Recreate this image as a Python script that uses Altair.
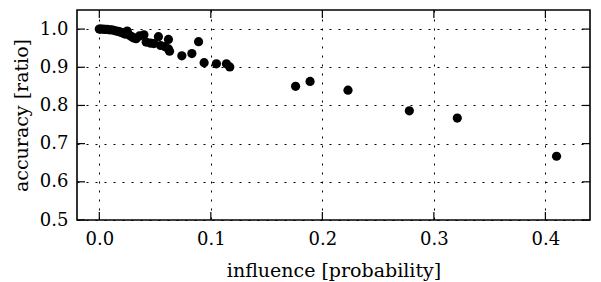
import altair as alt
import pandas as pd

influence = [0.000, 0.001, 0.003, 0.005, 0.007, 0.009, 0.011, 0.013, 0.015, 0.017,
             0.019, 0.021, 0.023, 0.025, 0.027, 0.029, 0.031, 0.033, 0.036, 0.040,
             0.042, 0.046, 0.049, 0.053, 0.055, 0.059, 0.062, 0.062, 0.063, 0.074,
             0.083, 0.089, 0.094, 0.105, 0.114, 0.117, 0.176, 0.189, 0.223, 0.278,
             0.321, 0.410]
accuracy = [1.000, 1.000, 1.000, 0.999, 0.999, 0.998, 0.998, 0.997, 0.995, 0.994,
            0.992, 0.990, 0.987, 0.995, 0.984, 0.980, 0.977, 0.975, 0.982, 0.985,
            0.966, 0.963, 0.962, 0.980, 0.957, 0.954, 0.973, 0.948, 0.942, 0.930,
            0.936, 0.967, 0.912, 0.909, 0.909, 0.901, 0.850, 0.863, 0.840, 0.786,
            0.767, 0.667]
x_ticks = [0.0, 0.1, 0.2, 0.3, 0.4]
y_ticks = [0.5, 0.6, 0.7, 0.8, 0.9, 1.0]

W, H = 513, 210
FONT = "DejaVu Serif"
TL = 8

df = pd.DataFrame({"influence": influence, "accuracy": accuracy})
xt = pd.DataFrame({"influence": x_ticks})
yt = pd.DataFrame({"accuracy": y_ticks})

xs = alt.Scale(domain=[-0.02, 0.44], nice=False, zero=False)
ys = alt.Scale(domain=[0.5, 1.05], nice=False, zero=False)

xaxis = alt.Axis(title="influence [probability]", values=x_ticks, format=".1f",
                 ticks=False, domain=False, labelPadding=10, titlePadding=13,
                 grid=True, gridColor="black", gridDash=[2, 7], gridWidth=1,
                 gridOpacity=1)
yaxis = alt.Axis(title="accuracy [ratio]", values=y_ticks, format=".1f",
                 ticks=False, domain=False, labelPadding=9, titlePadding=8,
                 grid=True, gridColor="black", gridDash=[2, 7], gridWidth=1,
                 gridOpacity=1)

X = alt.X("influence:Q", scale=xs, axis=xaxis)
Y = alt.Y("accuracy:Q", scale=ys, axis=yaxis)

points = alt.Chart(df).mark_circle(size=85, color="black", opacity=1).encode(x=X, y=Y)

xb = alt.Chart(xt).mark_rule(color="black", strokeWidth=1.2).encode(
    x=X, y=alt.value(H), y2=alt.value(H - TL))
xtop = alt.Chart(xt).mark_rule(color="black", strokeWidth=1.2).encode(
    x=X, y=alt.value(0), y2=alt.value(TL))
yl = alt.Chart(yt).mark_rule(color="black", strokeWidth=1.2).encode(
    y=Y, x=alt.value(0), x2=alt.value(TL))
yr = alt.Chart(yt).mark_rule(color="black", strokeWidth=1.2).encode(
    y=Y, x=alt.value(W), x2=alt.value(W - TL))

chart = alt.layer(points, xb, xtop, yl, yr).properties(
    width=W, height=H,
    autosize=alt.AutoSizeParams(type="none"),
    padding={"left": 69, "top": 2, "right": 2, "bottom": 63},
).configure_view(stroke="black", strokeWidth=1.6).configure_axis(
    labelFont=FONT, titleFont=FONT, labelFontSize=18, titleFontSize=19,
    labelColor="black", titleColor="black", titleFontWeight="normal",
)

chart.save("out.html", embed_options={"renderer": "svg", "actions": False})
